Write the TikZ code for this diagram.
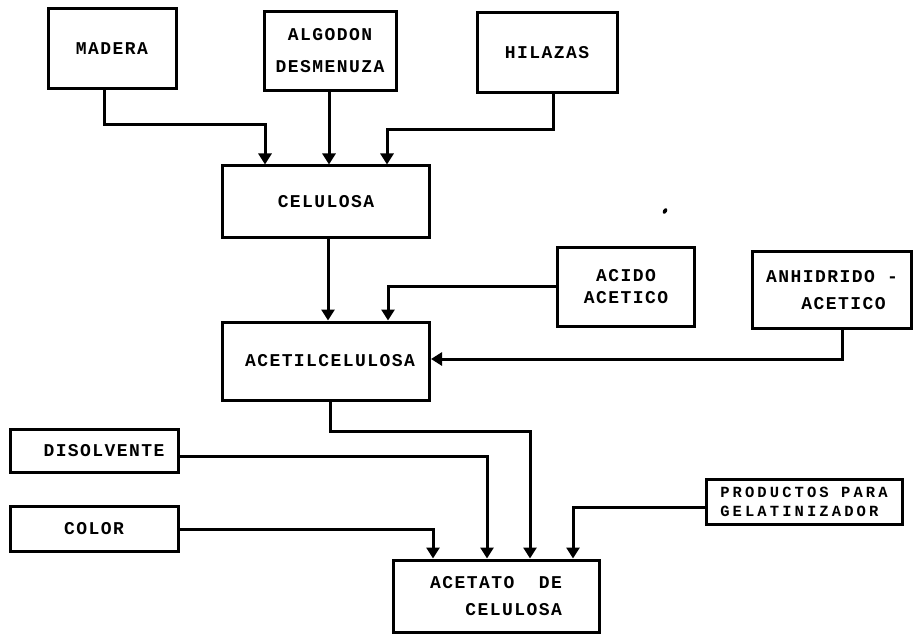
\documentclass[tikz,border=0pt]{standalone}
\usepackage{fontspec}
\newfontfamily\tw[LetterSpace=8]{Liberation Mono Bold}
\newfontfamily\twwide[LetterSpace=20]{Liberation Mono Bold}
\usetikzlibrary{arrows.meta}
\tikzset{
  blk/.style={draw=black, line width=3pt, rectangle, inner sep=0pt,
    font=\tw\fontsize{18}{28}\selectfont, text=black},
  arr/.style={draw=black, line width=3pt, -{Triangle[length=11pt,width=13pt]}},
}
\begin{document}
\begin{tikzpicture}[x=1pt,y=-1pt]
\useasboundingbox (0,0) rectangle (918,636);
% top row
\node[blk, minimum width=128pt, minimum height=80pt] (mad) at (112,49) {MADERA};
\node[blk, minimum width=132pt, minimum height=79pt, align=center,
      font=\tw\fontsize{18}{32}\selectfont] (alg) at (330,51) {ALGODON\\DESMENUZA};
\node[blk, minimum width=140pt, minimum height=80pt] (hil) at (547,53) {HILAZAS};
% celulosa
\node[blk, minimum width=207pt, minimum height=72pt] (cel) at (326,202) {CELULOSA};
% acetilcelulosa
\node[blk, minimum width=207pt, minimum height=78pt] (acl) at (326,361) {\hspace{8pt}ACETILCELULOSA};
\node[blk, minimum width=137pt, minimum height=79pt, align=center,
      font=\tw\fontsize{18}{22}\selectfont] (aci) at (626,287) {ACIDO\\ACETICO};
\node[blk, minimum width=159pt, minimum height=76pt, align=left,
      font=\tw\fontsize{18}{27}\selectfont] (anh) at (832,290) {ANHIDRIDO -\\\phantom{AAA}ACETICO};
% left inputs
\node[blk, minimum width=168pt, minimum height=43pt] (dis) at (94,451) {\hspace{20pt}DISOLVENTE};
\node[blk, minimum width=168pt, minimum height=45pt] (col) at (94,529) {COLOR\hspace{16pt}};
% productos
\node[blk, minimum width=196pt, minimum height=45pt, align=left,
      font=\twwide\fontsize{15.5}{19}\selectfont] (pro) at (804,502) {PRODUCTOS PARA\\GELATINIZADOR};
% acetato
\node[blk, minimum width=206pt, minimum height=72pt, align=right,
      font=\tw\fontsize{18}{27}\selectfont] (ace) at (496,596) {ACETATO\ \ DE\\CELULOSA};
% connectors
\draw[arr] ([xshift=-8pt]mad.south) -- ++(0,34) -| ([xshift=-61pt]cel.north);
\draw[arr] ([xshift=-1pt]alg.south) -- ([xshift=3pt]cel.north);
\draw[arr] ([xshift=6pt]hil.south) -- ++(0,35) -| ([xshift=61pt]cel.north);
\draw[arr] ([xshift=2pt]cel.south) -- ([xshift=2pt]acl.north);
\draw[arr] (aci.west) -| ([xshift=62pt]acl.north);
\draw[arr] ([xshift=10pt]anh.south) |- ([yshift=2pt]acl.east);
\draw[arr] ([xshift=4pt]acl.south) -- ++(0,30) -| ([xshift=34pt]ace.north);
\draw[arr] ([yshift=-5pt]dis.east) -| ([xshift=-9pt]ace.north);
\draw[arr] (col.east) -| ([xshift=-63pt]ace.north);
\draw[arr] ([yshift=-5pt]pro.west) -| ([xshift=77pt]ace.north);
% scanning speck
\fill[black, rotate around={60:(665,211)}] (665,211) ellipse (3pt and 2pt);
\end{tikzpicture}
\end{document}
